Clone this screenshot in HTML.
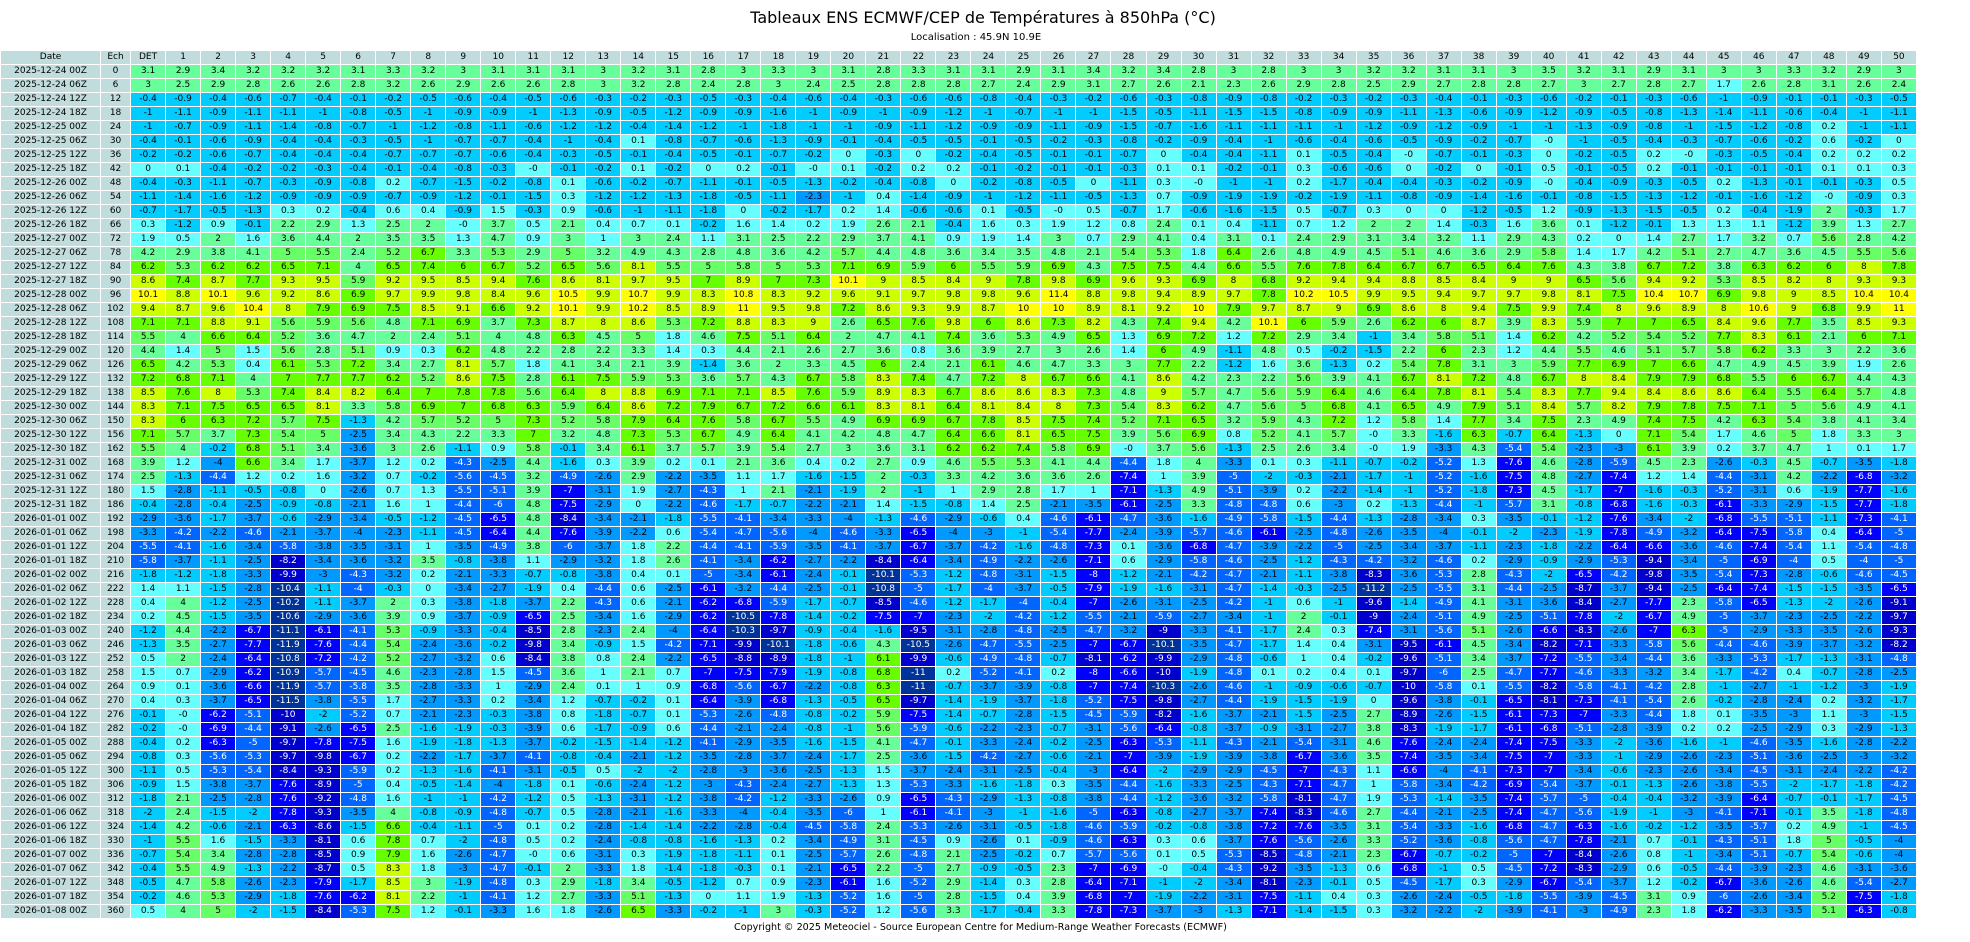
<!DOCTYPE html>
<html><head><meta charset="utf-8">
<style>
body{margin:0;background:#fff;width:1970px;height:942px;overflow:hidden;position:relative;font-family:"DejaVu Sans","Liberation Sans",sans-serif;color:#000}
.ti{position:absolute;left:0;top:8px;width:1966px;text-align:center;font-size:16px;line-height:20px}
.lo{position:absolute;left:0;top:32px;width:1952px;text-align:center;font-size:10px;line-height:12px}
.cp{position:absolute;left:734px;top:921px;font-size:9.6px;line-height:14px;white-space:nowrap}
table{position:absolute;left:0;top:50px;border-collapse:separate;border-spacing:1px;table-layout:fixed;width:1917px}
td,th{height:13px;padding:0;font-size:9px;line-height:13px;text-align:center;font-weight:normal;white-space:nowrap;overflow:hidden}
th{background:#c0dcdc}
.a{background:#ffff00}.b{background:#ccff00}.c{background:#66ff00}.d{background:#66ff66}.e{background:#66ff99}.f{background:#66ffff}.g{background:#00ccff}.h{background:#0099ff}
.i{background:#0066ff;color:#fff}.j{background:#0000ff;color:#fff}.k{background:#0000cc;color:#fff}.l{background:#003399;color:#fff}
</style></head><body>
<div class="ti">Tableaux ENS ECMWF/CEP de Températures à 850hPa (°C)</div>
<div class="lo">Localisation : 45.9N 10.9E</div>
<table>
<colgroup><col style="width:99px"><col style="width:29px"><col style="width:34px"><col span="50" style="width:34px"></colgroup>
<tr><th>Date<th>Ech<th>DET<th>1<th>2<th>3<th>4<th>5<th>6<th>7<th>8<th>9<th>10<th>11<th>12<th>13<th>14<th>15<th>16<th>17<th>18<th>19<th>20<th>21<th>22<th>23<th>24<th>25<th>26<th>27<th>28<th>29<th>30<th>31<th>32<th>33<th>34<th>35<th>36<th>37<th>38<th>39<th>40<th>41<th>42<th>43<th>44<th>45<th>46<th>47<th>48<th>49<th>50
<tr><th>2025-12-24 00Z<th>0<td class=e>3.1<td class=e>2.9<td class=e>3.4<td class=e>3.2<td class=e>3.2<td class=e>3.2<td class=e>3.1<td class=e>3.3<td class=e>3.2<td class=e>3<td class=e>3.1<td class=e>3.1<td class=e>3.1<td class=e>3<td class=e>3.2<td class=e>3.1<td class=e>2.8<td class=e>3<td class=e>3.3<td class=e>3<td class=e>3.1<td class=e>2.8<td class=e>3.3<td class=e>3.1<td class=e>3.1<td class=e>2.9<td class=e>3.1<td class=e>3.4<td class=e>3.2<td class=e>3.4<td class=e>2.8<td class=e>3<td class=e>2.8<td class=e>3<td class=e>3<td class=e>3.2<td class=e>3.2<td class=e>3.1<td class=e>3.1<td class=e>3<td class=e>3.5<td class=e>3.2<td class=e>3.1<td class=e>2.9<td class=e>3.1<td class=e>3<td class=e>3<td class=e>3.3<td class=e>3.2<td class=e>2.9<td class=e>3
<tr><th>2025-12-24 06Z<th>6<td class=e>3<td class=e>2.5<td class=e>2.9<td class=e>2.8<td class=e>2.6<td class=e>2.6<td class=e>2.8<td class=e>3.2<td class=e>2.6<td class=e>2.9<td class=e>2.6<td class=e>2.6<td class=e>2.8<td class=e>3<td class=e>3.2<td class=e>2.8<td class=e>2.4<td class=e>2.8<td class=e>3<td class=e>2.4<td class=e>2.5<td class=e>2.8<td class=e>2.8<td class=e>2.8<td class=e>2.7<td class=e>2.4<td class=e>2.9<td class=e>3.1<td class=e>2.7<td class=e>2.6<td class=e>2.1<td class=e>2.3<td class=e>2.6<td class=e>2.9<td class=e>2.8<td class=e>2.5<td class=e>2.9<td class=e>2.7<td class=e>2.8<td class=e>2.8<td class=e>2.7<td class=e>3<td class=e>2.7<td class=e>2.8<td class=e>2.7<td class=f>1.7<td class=e>2.6<td class=e>2.8<td class=e>3.1<td class=e>2.6<td class=e>2.4
<tr><th>2025-12-24 12Z<th>12<td class=g>-0.4<td class=g>-0.9<td class=g>-0.4<td class=g>-0.6<td class=g>-0.7<td class=g>-0.4<td class=g>-0.1<td class=g>-0.2<td class=g>-0.5<td class=g>-0.6<td class=g>-0.4<td class=g>-0.5<td class=g>-0.6<td class=g>-0.3<td class=g>-0.2<td class=g>-0.3<td class=g>-0.5<td class=g>-0.3<td class=g>-0.4<td class=g>-0.6<td class=g>-0.4<td class=g>-0.3<td class=g>-0.6<td class=g>-0.6<td class=g>-0.8<td class=g>-0.4<td class=g>-0.3<td class=g>-0.2<td class=g>-0.6<td class=g>-0.3<td class=g>-0.8<td class=g>-0.9<td class=g>-0.8<td class=g>-0.2<td class=g>-0.3<td class=g>-0.2<td class=g>-0.3<td class=g>-0.4<td class=g>-0.1<td class=g>-0.3<td class=g>-0.6<td class=g>-0.2<td class=g>-0.1<td class=g>-0.3<td class=g>-0.6<td class=g>-1<td class=g>-0.9<td class=g>-0.1<td class=g>-0.1<td class=g>-0.3<td class=g>-0.5
<tr><th>2025-12-24 18Z<th>18<td class=g>-1<td class=g>-1.1<td class=g>-0.9<td class=g>-1.1<td class=g>-1.1<td class=g>-1<td class=g>-0.8<td class=g>-0.5<td class=g>-1<td class=g>-0.9<td class=g>-0.9<td class=g>-1<td class=g>-1.3<td class=g>-0.9<td class=g>-0.5<td class=g>-1.2<td class=g>-0.9<td class=g>-0.9<td class=g>-1.6<td class=g>-1<td class=g>-0.9<td class=g>-1<td class=g>-0.9<td class=g>-1.2<td class=g>-1<td class=g>-0.7<td class=g>-1<td class=g>-1<td class=g>-1.5<td class=g>-0.5<td class=g>-1.1<td class=g>-1.5<td class=g>-1.5<td class=g>-0.8<td class=g>-0.9<td class=g>-0.9<td class=g>-1.1<td class=g>-1.3<td class=g>-0.6<td class=g>-0.9<td class=g>-1.2<td class=g>-0.9<td class=g>-0.5<td class=g>-0.8<td class=g>-1.3<td class=g>-1.4<td class=g>-1.1<td class=g>-0.6<td class=g>-0.4<td class=g>-1<td class=g>-1.1
<tr><th>2025-12-25 00Z<th>24<td class=g>-1<td class=g>-0.7<td class=g>-0.9<td class=g>-1.1<td class=g>-1.4<td class=g>-0.8<td class=g>-0.7<td class=g>-1<td class=g>-1.2<td class=g>-0.8<td class=g>-1.1<td class=g>-0.6<td class=g>-1.2<td class=g>-1.2<td class=g>-0.4<td class=g>-1.4<td class=g>-1.2<td class=g>-1<td class=g>-1.8<td class=g>-1<td class=g>-1<td class=g>-0.9<td class=g>-1.1<td class=g>-1.2<td class=g>-0.9<td class=g>-0.9<td class=g>-1.1<td class=g>-0.9<td class=g>-1.5<td class=g>-0.7<td class=g>-1.6<td class=g>-1.1<td class=g>-1.1<td class=g>-1.1<td class=g>-1<td class=g>-1.2<td class=g>-0.9<td class=g>-1.2<td class=g>-0.9<td class=g>-1<td class=g>-1<td class=g>-1.3<td class=g>-0.9<td class=g>-0.8<td class=g>-1<td class=g>-1.5<td class=g>-1.2<td class=g>-0.8<td class=f>0.2<td class=g>-1<td class=g>-1.1
<tr><th>2025-12-25 06Z<th>30<td class=g>-0.4<td class=g>-0.1<td class=g>-0.6<td class=g>-0.9<td class=g>-0.4<td class=g>-0.4<td class=g>-0.3<td class=g>-0.5<td class=g>-1<td class=g>-0.7<td class=g>-0.7<td class=g>-0.4<td class=g>-1<td class=g>-0.4<td class=f>0.1<td class=g>-0.8<td class=g>-0.7<td class=g>-0.6<td class=g>-1.3<td class=g>-0.9<td class=g>-0.1<td class=g>-0.4<td class=g>-0.5<td class=g>-0.5<td class=g>-0.1<td class=g>-0.5<td class=g>-0.2<td class=g>-0.3<td class=g>-0.8<td class=g>-0.2<td class=g>-0.9<td class=g>-0.4<td class=g>-1<td class=g>-0.6<td class=g>-0.4<td class=g>-0.6<td class=g>-0.5<td class=g>-0.9<td class=g>-0.2<td class=g>-0.7<td class=f>-0<td class=g>-1<td class=g>-0.5<td class=g>-0.4<td class=g>-0.3<td class=g>-0.7<td class=g>-0.6<td class=g>-0.2<td class=f>0.6<td class=g>-0.2<td class=f>0
<tr><th>2025-12-25 12Z<th>36<td class=g>-0.2<td class=g>-0.2<td class=g>-0.6<td class=g>-0.7<td class=g>-0.4<td class=g>-0.4<td class=g>-0.4<td class=g>-0.7<td class=g>-0.7<td class=g>-0.7<td class=g>-0.6<td class=g>-0.4<td class=g>-0.3<td class=g>-0.5<td class=g>-0.1<td class=g>-0.4<td class=g>-0.5<td class=g>-0.1<td class=g>-0.7<td class=g>-0.2<td class=f>0<td class=g>-0.3<td class=f>0<td class=g>-0.2<td class=g>-0.4<td class=g>-0.5<td class=g>-0.1<td class=g>-0.1<td class=g>-0.7<td class=f>0<td class=g>-0.4<td class=g>-0.4<td class=g>-1.1<td class=f>0.1<td class=g>-0.5<td class=g>-0.4<td class=f>-0<td class=g>-0.7<td class=g>-0.1<td class=g>-0.3<td class=f>0<td class=g>-0.2<td class=g>-0.5<td class=f>0.2<td class=f>-0<td class=g>-0.3<td class=g>-0.5<td class=g>-0.4<td class=f>0.2<td class=f>0.2<td class=f>0.2
<tr><th>2025-12-25 18Z<th>42<td class=f>0<td class=f>0.1<td class=g>-0.4<td class=g>-0.2<td class=g>-0.2<td class=g>-0.3<td class=g>-0.4<td class=g>-0.1<td class=g>-0.4<td class=g>-0.8<td class=g>-0.3<td class=f>-0<td class=g>-0.1<td class=g>-0.2<td class=f>0.1<td class=g>-0.2<td class=f>0<td class=f>0.2<td class=g>-0.1<td class=f>-0<td class=f>0.1<td class=g>-0.2<td class=f>0.2<td class=f>0.2<td class=g>-0.1<td class=g>-0.2<td class=g>-0.1<td class=g>-0.1<td class=g>-0.3<td class=f>0.1<td class=f>0.1<td class=g>-0.2<td class=g>-0.1<td class=f>0.3<td class=g>-0.6<td class=g>-0.6<td class=f>0<td class=g>-0.2<td class=f>0<td class=g>-0.1<td class=f>0.5<td class=g>-0.1<td class=g>-0.5<td class=f>0.2<td class=g>-0.1<td class=g>-0.1<td class=g>-0.1<td class=g>-0.1<td class=f>0.1<td class=f>0.1<td class=f>0.3
<tr><th>2025-12-26 00Z<th>48<td class=g>-0.4<td class=g>-0.3<td class=g>-1.1<td class=g>-0.7<td class=g>-0.3<td class=g>-0.9<td class=g>-0.8<td class=f>0.2<td class=g>-0.7<td class=g>-1.5<td class=g>-0.2<td class=g>-0.8<td class=f>0.1<td class=g>-0.6<td class=g>-0.2<td class=g>-0.7<td class=g>-1.1<td class=g>-0.1<td class=g>-0.5<td class=g>-1.3<td class=g>-0.2<td class=g>-0.4<td class=g>-0.8<td class=f>0<td class=g>-0.2<td class=g>-0.8<td class=g>-0.5<td class=f>0<td class=g>-1.1<td class=f>0.3<td class=f>-0<td class=g>-1<td class=g>-1<td class=f>0.2<td class=g>-1.7<td class=g>-0.4<td class=g>-0.4<td class=g>-0.3<td class=g>-0.2<td class=g>-0.9<td class=f>-0<td class=g>-0.4<td class=g>-0.9<td class=g>-0.3<td class=g>-0.5<td class=f>0.2<td class=g>-1.3<td class=g>-0.1<td class=g>-0.1<td class=g>-0.3<td class=f>0.5
<tr><th>2025-12-26 06Z<th>54<td class=g>-1.1<td class=g>-1.4<td class=g>-1.6<td class=g>-1.2<td class=g>-0.9<td class=g>-0.9<td class=g>-0.9<td class=g>-0.7<td class=g>-0.9<td class=g>-1.2<td class=g>-0.1<td class=g>-1.5<td class=f>0.3<td class=g>-1.2<td class=g>-1.2<td class=g>-1.3<td class=g>-1.8<td class=g>-0.5<td class=g>-1.1<td class=h>-2.3<td class=g>-1<td class=f>0.4<td class=g>-1.4<td class=g>-0.9<td class=g>-1<td class=g>-1.2<td class=g>-1.1<td class=g>-0.5<td class=g>-1.3<td class=f>0.7<td class=g>-0.9<td class=g>-1.9<td class=g>-1.9<td class=g>-0.2<td class=g>-1.9<td class=g>-1.1<td class=g>-0.8<td class=g>-0.9<td class=g>-1.4<td class=g>-1.6<td class=g>-0.1<td class=g>-0.8<td class=g>-1.5<td class=g>-1.3<td class=g>-1.2<td class=g>-0.1<td class=g>-1.6<td class=g>-1.2<td class=f>-0<td class=g>-0.9<td class=f>0.3
<tr><th>2025-12-26 12Z<th>60<td class=g>-0.7<td class=g>-1.7<td class=g>-0.5<td class=g>-1.3<td class=f>0.3<td class=f>0.2<td class=g>-0.4<td class=f>0.6<td class=f>0.4<td class=g>-0.9<td class=f>1.5<td class=g>-0.3<td class=f>0.9<td class=g>-0.6<td class=g>-1<td class=g>-1.1<td class=g>-1.8<td class=f>0<td class=g>-0.2<td class=g>-1.7<td class=f>0.2<td class=f>1.4<td class=g>-0.6<td class=g>-0.6<td class=f>0.1<td class=g>-0.5<td class=f>-0<td class=f>0.5<td class=g>-0.7<td class=f>1.7<td class=g>-0.6<td class=g>-1.6<td class=g>-1.5<td class=f>0.5<td class=g>-0.7<td class=f>0.3<td class=f>0<td class=f>0<td class=g>-1.2<td class=g>-0.5<td class=f>1.2<td class=g>-0.9<td class=g>-1.3<td class=g>-1.5<td class=g>-0.5<td class=f>0.2<td class=g>-0.4<td class=g>-1.9<td class=e>2<td class=g>-0.3<td class=f>1.7
<tr><th>2025-12-26 18Z<th>66<td class=f>0.3<td class=g>-1.2<td class=f>0.9<td class=g>-0.1<td class=e>2.2<td class=e>2.9<td class=f>1.3<td class=e>2.5<td class=e>2<td class=f>-0<td class=e>3.7<td class=f>0.5<td class=e>2.1<td class=f>0.4<td class=f>0.7<td class=f>0.1<td class=g>-0.2<td class=f>1.6<td class=f>1.4<td class=f>0.2<td class=f>1.9<td class=e>2.6<td class=e>2.1<td class=g>-0.4<td class=f>1.6<td class=f>0.3<td class=f>1.9<td class=f>1.2<td class=f>0.8<td class=e>2.4<td class=f>0.1<td class=f>0.4<td class=g>-1.1<td class=f>0.7<td class=f>1.2<td class=e>2<td class=e>2<td class=f>1.4<td class=g>-0.3<td class=f>1.6<td class=e>3.6<td class=f>0.1<td class=g>-1.2<td class=g>-0.1<td class=f>1.3<td class=f>1.3<td class=f>1.1<td class=g>-1.2<td class=e>3.9<td class=f>1.3<td class=e>2.7
<tr><th>2025-12-27 00Z<th>72<td class=f>1.9<td class=f>0.5<td class=e>2<td class=f>1.6<td class=e>3.6<td class=e>4.4<td class=e>2<td class=e>3.5<td class=e>3.5<td class=f>1.3<td class=e>4.7<td class=f>0.9<td class=e>3<td class=f>1<td class=e>3<td class=e>2.4<td class=f>1.1<td class=e>3.1<td class=e>2.5<td class=e>2.2<td class=e>2.9<td class=e>3.7<td class=e>4.1<td class=f>0.9<td class=f>1.9<td class=f>1.4<td class=e>3<td class=f>0.7<td class=e>2.9<td class=e>4.1<td class=f>0.4<td class=e>3.1<td class=f>0.1<td class=e>2.4<td class=e>2.9<td class=e>3.1<td class=e>3.4<td class=e>3.2<td class=f>1.1<td class=e>2.9<td class=e>4.3<td class=f>0.2<td class=f>0<td class=f>1.4<td class=e>2.7<td class=f>1.7<td class=e>3.2<td class=f>0.7<td class=d>5.6<td class=e>2.8<td class=e>4.2
<tr><th>2025-12-27 06Z<th>78<td class=e>4.2<td class=e>2.9<td class=e>3.8<td class=e>4.1<td class=d>5<td class=d>5.5<td class=e>2.4<td class=d>5.2<td class=c>6.7<td class=e>3.3<td class=d>5.3<td class=e>2.9<td class=d>5<td class=e>3.2<td class=e>4.9<td class=e>4.3<td class=e>2.8<td class=e>4.8<td class=e>3.6<td class=e>4.2<td class=d>5.7<td class=e>4.4<td class=e>4.8<td class=e>3.6<td class=e>3.4<td class=e>3.5<td class=e>4.8<td class=e>2.1<td class=d>5.4<td class=d>5.3<td class=f>1.8<td class=c>6.4<td class=e>2.6<td class=e>4.8<td class=e>4.9<td class=e>4.5<td class=d>5.1<td class=e>4.6<td class=e>3.6<td class=e>2.9<td class=d>5.8<td class=f>1.4<td class=f>1.7<td class=e>4.2<td class=d>5.1<td class=e>2.7<td class=e>4.7<td class=e>3.6<td class=e>4.5<td class=d>5.5<td class=d>5.6
<tr><th>2025-12-27 12Z<th>84<td class=c>6.2<td class=d>5.3<td class=c>6.2<td class=c>6.2<td class=c>6.5<td class=c>7.1<td class=e>4<td class=c>6.5<td class=c>7.4<td class=c>6<td class=c>6.7<td class=d>5.2<td class=c>6.5<td class=d>5.6<td class=b>8.1<td class=d>5.5<td class=d>5<td class=d>5.8<td class=d>5<td class=d>5.3<td class=c>7.1<td class=c>6.9<td class=d>5.9<td class=c>6<td class=d>5.5<td class=d>5.9<td class=c>6.9<td class=e>4.3<td class=c>7.5<td class=c>7.5<td class=e>4.4<td class=c>6.6<td class=d>5.5<td class=c>7.6<td class=c>7.8<td class=c>6.4<td class=c>6.7<td class=c>6.7<td class=c>6.5<td class=c>6.4<td class=c>7.6<td class=e>4.3<td class=e>3.8<td class=c>6.7<td class=c>7.2<td class=e>3.8<td class=c>6.3<td class=c>6.2<td class=c>6<td class=b>8<td class=c>7.8
<tr><th>2025-12-27 18Z<th>90<td class=b>8.6<td class=c>7.4<td class=b>8.7<td class=c>7.7<td class=b>9.3<td class=b>9.5<td class=d>5.9<td class=b>9.2<td class=b>9.5<td class=b>8.5<td class=b>9.4<td class=c>7.6<td class=b>8.6<td class=b>8.1<td class=b>9.7<td class=b>9.5<td class=c>7<td class=b>8.9<td class=c>7<td class=c>7.3<td class=a>10.1<td class=b>9<td class=b>8.5<td class=b>8.4<td class=b>9<td class=c>7.8<td class=b>9.8<td class=c>6.9<td class=b>9.6<td class=b>9.3<td class=c>6.9<td class=b>8<td class=c>6.8<td class=b>9.2<td class=b>9.4<td class=b>9.4<td class=b>8.8<td class=b>8.5<td class=b>8.4<td class=b>9<td class=b>9<td class=c>6.5<td class=d>5.6<td class=b>9.4<td class=b>9.2<td class=d>5.3<td class=b>8.5<td class=b>8.2<td class=b>8<td class=b>9.3<td class=b>9.3
<tr><th>2025-12-28 00Z<th>96<td class=a>10.1<td class=b>8.8<td class=a>10.1<td class=b>9.6<td class=b>9.2<td class=b>8.6<td class=c>6.9<td class=b>9.7<td class=b>9.9<td class=b>9.8<td class=b>8.4<td class=b>9.6<td class=a>10.5<td class=b>9.9<td class=a>10.7<td class=b>9.9<td class=b>8.3<td class=a>10.8<td class=b>8.3<td class=b>9.2<td class=b>9.6<td class=b>9.1<td class=b>9.7<td class=b>9.8<td class=b>9.8<td class=b>9.6<td class=a>11.4<td class=b>8.8<td class=b>9.8<td class=b>9.4<td class=b>8.9<td class=b>9.7<td class=c>7.8<td class=a>10.2<td class=a>10.5<td class=b>9.9<td class=b>9.5<td class=b>9.4<td class=b>9.7<td class=b>9.7<td class=b>9.8<td class=b>8.1<td class=c>7.5<td class=a>10.4<td class=a>10.7<td class=c>6.9<td class=b>9.8<td class=b>9<td class=b>8.5<td class=a>10.4<td class=a>10.4
<tr><th>2025-12-28 06Z<th>102<td class=b>9.4<td class=b>8.7<td class=b>9.6<td class=a>10.4<td class=b>8<td class=c>7.9<td class=c>6.9<td class=c>7.5<td class=b>8.5<td class=b>9.1<td class=c>6.6<td class=b>9.2<td class=a>10.1<td class=b>9.9<td class=a>10.2<td class=b>8.5<td class=b>8.9<td class=a>11<td class=b>9.5<td class=b>9.8<td class=c>7.2<td class=b>8.6<td class=b>9.3<td class=b>9.9<td class=b>8.7<td class=a>10<td class=a>10<td class=b>8.9<td class=b>8.1<td class=b>9.2<td class=a>10<td class=c>7.9<td class=b>9.7<td class=b>8.7<td class=b>9<td class=c>6.9<td class=b>8.6<td class=b>8<td class=b>9.4<td class=c>7.5<td class=b>9.9<td class=c>7.4<td class=b>8<td class=b>9.6<td class=b>8.9<td class=b>8<td class=a>10.6<td class=b>9<td class=c>6.8<td class=b>9.9<td class=a>11
<tr><th>2025-12-28 12Z<th>108<td class=c>7.1<td class=c>7.1<td class=b>8.8<td class=b>9.1<td class=d>5.6<td class=d>5.9<td class=d>5.6<td class=e>4.8<td class=c>7.1<td class=c>6.9<td class=e>3.7<td class=c>7.3<td class=b>8.7<td class=b>8<td class=b>8.6<td class=d>5.3<td class=c>7.2<td class=b>8.8<td class=b>8.3<td class=b>9<td class=e>2.6<td class=c>6.5<td class=c>7.6<td class=b>9.8<td class=c>6<td class=b>8.6<td class=c>7.3<td class=b>8.2<td class=e>4.3<td class=c>7.4<td class=b>9.4<td class=e>4.2<td class=a>10.1<td class=c>6<td class=d>5.9<td class=e>2.6<td class=c>6.2<td class=c>6<td class=b>8.7<td class=e>3.9<td class=b>8.3<td class=d>5.9<td class=c>7<td class=c>7<td class=c>6.5<td class=b>8.4<td class=b>9.6<td class=c>7.7<td class=e>3.5<td class=b>8.5<td class=b>9.3
<tr><th>2025-12-28 18Z<th>114<td class=d>5.5<td class=e>4<td class=c>6.6<td class=c>6.4<td class=d>5.2<td class=e>3.6<td class=e>4.7<td class=e>2<td class=e>2.4<td class=d>5.1<td class=e>4<td class=e>4.8<td class=c>6.3<td class=e>4.5<td class=d>5<td class=f>1.8<td class=e>4.6<td class=c>7.5<td class=d>5.1<td class=c>6.4<td class=e>2<td class=e>4.7<td class=e>4.1<td class=c>7.4<td class=e>3.6<td class=d>5.3<td class=e>4.9<td class=c>6.5<td class=f>1.3<td class=c>6.9<td class=c>7.2<td class=f>1.2<td class=c>7.2<td class=e>2.9<td class=e>3.4<td class=g>-1<td class=e>3.4<td class=d>5.8<td class=d>5.1<td class=f>1.4<td class=c>6.2<td class=e>4.2<td class=d>5.2<td class=d>5.4<td class=d>5.2<td class=c>7.7<td class=b>8.3<td class=c>6.1<td class=e>2.1<td class=c>6<td class=c>7.1
<tr><th>2025-12-29 00Z<th>120<td class=e>4.4<td class=f>1.4<td class=d>5<td class=f>1.5<td class=d>5.6<td class=e>2.8<td class=d>5.1<td class=f>0.9<td class=f>0.3<td class=c>6.2<td class=e>4.8<td class=e>2.2<td class=e>2.8<td class=e>2.2<td class=e>3.3<td class=f>1.4<td class=f>0.3<td class=e>4.4<td class=e>2.1<td class=e>2.6<td class=e>2.7<td class=e>3.6<td class=f>0.8<td class=e>3.6<td class=e>3.9<td class=e>2.7<td class=e>3<td class=e>2.6<td class=f>1.4<td class=c>6<td class=e>4.9<td class=g>-1.1<td class=e>4.8<td class=f>0.5<td class=g>-0.2<td class=g>-1.5<td class=e>2.2<td class=c>6<td class=e>2.3<td class=f>1.2<td class=e>4.4<td class=d>5.5<td class=e>4.6<td class=d>5.1<td class=d>5.7<td class=d>5.8<td class=c>6.2<td class=e>3.3<td class=e>3<td class=e>2.2<td class=e>3.6
<tr><th>2025-12-29 06Z<th>126<td class=c>6.5<td class=e>4.2<td class=d>5.3<td class=f>0.4<td class=c>6.1<td class=d>5.3<td class=c>7.2<td class=e>3.4<td class=e>2.7<td class=b>8.1<td class=d>5.7<td class=f>1.8<td class=e>4.1<td class=e>3.4<td class=e>2.1<td class=e>3.9<td class=g>-1.4<td class=e>3.6<td class=e>2<td class=e>3.3<td class=e>4.5<td class=c>6<td class=e>2.4<td class=e>2.1<td class=c>6.1<td class=e>4.6<td class=e>4.7<td class=e>3.3<td class=e>3<td class=c>7.7<td class=e>2.2<td class=g>-1.2<td class=f>1.6<td class=e>3.6<td class=g>-1.3<td class=f>0.2<td class=d>5.4<td class=c>7.8<td class=e>3.1<td class=e>3<td class=d>5.9<td class=c>7.7<td class=c>6.9<td class=c>7<td class=c>6.6<td class=e>4.7<td class=e>4.9<td class=e>4.5<td class=e>3.9<td class=f>1.9<td class=e>2.6
<tr><th>2025-12-29 12Z<th>132<td class=c>7.2<td class=c>6.8<td class=c>7.1<td class=e>4<td class=c>7<td class=c>7.7<td class=c>7.7<td class=c>6.2<td class=d>5.2<td class=b>8.6<td class=c>7.5<td class=e>2.8<td class=c>6.1<td class=c>7.5<td class=d>5.9<td class=d>5.3<td class=e>3.6<td class=d>5.7<td class=e>4.3<td class=c>6.7<td class=d>5.8<td class=b>8.3<td class=c>7.4<td class=e>4.7<td class=c>7.2<td class=b>8<td class=c>6.7<td class=c>6.6<td class=e>4.1<td class=b>8.6<td class=e>4.2<td class=e>2.3<td class=e>2.2<td class=d>5.6<td class=e>3.9<td class=e>4.1<td class=c>6.7<td class=b>8.1<td class=c>7.2<td class=e>4.8<td class=c>6.7<td class=b>8<td class=b>8.4<td class=c>7.9<td class=c>7.9<td class=c>6.8<td class=d>5.5<td class=c>6<td class=c>6.7<td class=e>4.4<td class=e>4.3
<tr><th>2025-12-29 18Z<th>138<td class=b>8.5<td class=c>7.6<td class=b>8<td class=d>5.3<td class=c>7.4<td class=b>8.4<td class=b>8.2<td class=c>6.4<td class=c>7<td class=c>7.8<td class=c>7.8<td class=d>5.6<td class=c>6.4<td class=b>8<td class=b>8.8<td class=c>6.9<td class=c>7.1<td class=c>7.1<td class=b>8.5<td class=c>7.6<td class=d>5.9<td class=b>8.9<td class=b>8.3<td class=c>6.7<td class=b>8.6<td class=b>8.6<td class=b>8.3<td class=c>7.3<td class=e>4.8<td class=b>9<td class=d>5.7<td class=e>4.7<td class=d>5.6<td class=d>5.9<td class=c>6.4<td class=e>4.6<td class=c>6.4<td class=c>7.8<td class=b>8.1<td class=d>5.4<td class=b>8.3<td class=c>7.7<td class=b>9.4<td class=b>8.4<td class=b>8.6<td class=b>8.6<td class=c>6.4<td class=d>5.5<td class=c>6.4<td class=d>5.7<td class=e>4.8
<tr><th>2025-12-30 00Z<th>144<td class=b>8.3<td class=c>7.1<td class=c>7.5<td class=c>6.5<td class=c>6.5<td class=b>8.1<td class=e>3.3<td class=d>5.8<td class=c>6.9<td class=c>7<td class=c>6.8<td class=c>6.3<td class=d>5.9<td class=c>6.4<td class=b>8.6<td class=c>7.2<td class=c>7.9<td class=c>6.7<td class=c>7.2<td class=c>6.6<td class=c>6.1<td class=b>8.3<td class=b>8.1<td class=c>6.4<td class=b>8.1<td class=b>8.4<td class=b>8<td class=c>7.3<td class=d>5.4<td class=b>8.3<td class=c>6.2<td class=e>4.7<td class=d>5.6<td class=d>5<td class=c>6.8<td class=e>4.1<td class=c>6.5<td class=e>4.9<td class=c>7.9<td class=d>5.1<td class=b>8.4<td class=d>5.7<td class=b>8.2<td class=c>7.9<td class=c>7.8<td class=c>7.5<td class=c>7.1<td class=d>5<td class=d>5.6<td class=e>4.9<td class=e>4.1
<tr><th>2025-12-30 06Z<th>150<td class=b>8.3<td class=c>6<td class=c>6.3<td class=c>7.2<td class=d>5.7<td class=c>7.5<td class=g>-1.3<td class=e>4.2<td class=d>5.7<td class=d>5.2<td class=d>5<td class=c>7.3<td class=d>5.2<td class=d>5.8<td class=c>7.9<td class=c>6.4<td class=c>7.6<td class=d>5.8<td class=c>6.7<td class=d>5.5<td class=e>4.9<td class=c>6.9<td class=c>6.9<td class=c>6.7<td class=c>7.8<td class=b>8.5<td class=c>7.5<td class=c>7.4<td class=d>5.2<td class=c>7.1<td class=c>6.5<td class=e>3.2<td class=d>5.9<td class=e>4.3<td class=c>7.2<td class=f>1.2<td class=d>5.8<td class=f>1.4<td class=c>7.7<td class=e>3.4<td class=c>7.5<td class=e>2.3<td class=e>4.9<td class=c>7.4<td class=c>7.5<td class=e>4.2<td class=c>6.3<td class=d>5.4<td class=e>3.8<td class=e>4.1<td class=e>3.4
<tr><th>2025-12-30 12Z<th>156<td class=c>7.1<td class=d>5.7<td class=e>3.7<td class=c>7.3<td class=d>5.4<td class=d>5<td class=h>-2.5<td class=e>3.4<td class=e>4.3<td class=e>2.2<td class=e>3.3<td class=c>7<td class=e>3.2<td class=e>4.8<td class=c>7.3<td class=d>5.3<td class=c>6.7<td class=e>4.9<td class=c>6.4<td class=e>4.1<td class=e>4.2<td class=e>4.8<td class=e>4.7<td class=c>6.4<td class=c>6.6<td class=b>8.1<td class=c>6.5<td class=c>7.5<td class=e>3.9<td class=d>5.6<td class=c>6.9<td class=f>0.8<td class=d>5.2<td class=e>4.1<td class=d>5.7<td class=f>-0<td class=e>3.3<td class=g>-1.6<td class=c>6.3<td class=g>-0.7<td class=c>6.4<td class=g>-1.3<td class=f>0<td class=c>7.1<td class=d>5.4<td class=f>1.7<td class=e>4.6<td class=d>5<td class=f>1.8<td class=e>3.3<td class=e>3
<tr><th>2025-12-30 18Z<th>162<td class=d>5.5<td class=e>4<td class=g>-0.2<td class=c>6.8<td class=d>5.1<td class=e>3.4<td class=h>-3.6<td class=e>3<td class=e>2.6<td class=g>-1.1<td class=f>0.9<td class=d>5.8<td class=g>-0.1<td class=e>3.4<td class=c>6.1<td class=e>3.7<td class=d>5.7<td class=e>3.9<td class=d>5.4<td class=e>2.7<td class=e>3<td class=e>3.6<td class=e>3.1<td class=c>6.2<td class=c>6.2<td class=c>7.4<td class=d>5.8<td class=c>6.9<td class=f>-0<td class=e>3.7<td class=d>5.6<td class=g>-1.3<td class=e>2.5<td class=e>2.6<td class=e>3.4<td class=f>-0<td class=f>1.9<td class=h>-3.3<td class=e>4.3<td class=i>-5.4<td class=d>5.4<td class=h>-2.3<td class=h>-3<td class=c>6.1<td class=e>3.9<td class=f>0.2<td class=e>3.7<td class=e>4.7<td class=f>1<td class=f>0.1<td class=f>1.7
<tr><th>2025-12-31 00Z<th>168<td class=e>3.9<td class=f>1.2<td class=h>-4<td class=c>6.6<td class=e>3.4<td class=f>1.7<td class=h>-3.7<td class=f>1.2<td class=f>0.2<td class=i>-4.3<td class=h>-2.5<td class=e>4.4<td class=g>-1.6<td class=f>0.3<td class=e>3.9<td class=f>0.2<td class=f>0.1<td class=e>2.1<td class=e>3.6<td class=f>0.4<td class=f>0.2<td class=e>2.7<td class=f>0.9<td class=e>4.6<td class=d>5.5<td class=d>5.3<td class=e>4.1<td class=e>4.4<td class=i>-4.4<td class=f>1.8<td class=e>4<td class=h>-3.3<td class=f>0.1<td class=f>0.3<td class=g>-1.1<td class=g>-0.7<td class=g>-0.2<td class=i>-5.2<td class=f>1.3<td class=j>-7.6<td class=e>4.6<td class=h>-2.8<td class=i>-5.9<td class=e>4.5<td class=e>2.3<td class=h>-2.6<td class=g>-0.3<td class=e>4.5<td class=g>-0.7<td class=h>-3.5<td class=g>-1.8
<tr><th>2025-12-31 06Z<th>174<td class=e>2.5<td class=g>-1.3<td class=i>-4.4<td class=f>1.2<td class=f>0.2<td class=f>1.6<td class=h>-3.2<td class=f>0.7<td class=g>-0.2<td class=i>-5.6<td class=i>-4.5<td class=e>3.2<td class=i>-4.9<td class=h>-2.6<td class=e>2.9<td class=h>-2.2<td class=h>-3.5<td class=f>1.1<td class=f>1.7<td class=g>-1.6<td class=g>-1.5<td class=e>2<td class=g>-0.3<td class=e>3.3<td class=e>4.2<td class=e>3.6<td class=e>3.6<td class=e>2.6<td class=j>-7.4<td class=f>1<td class=e>3.9<td class=i>-5<td class=g>-2<td class=g>-0.3<td class=h>-2.1<td class=g>-1.7<td class=g>-1<td class=i>-5.2<td class=g>-1.6<td class=j>-7.5<td class=e>4.8<td class=h>-2.7<td class=j>-7.4<td class=f>1.2<td class=f>1.4<td class=i>-4.4<td class=h>-3.1<td class=e>4.2<td class=h>-2.2<td class=j>-6.8<td class=h>-3.2
<tr><th>2025-12-31 12Z<th>180<td class=f>1.5<td class=h>-2.8<td class=g>-1.1<td class=g>-0.5<td class=g>-0.8<td class=f>0<td class=h>-2.6<td class=f>0.7<td class=f>1.3<td class=i>-5.5<td class=i>-5.1<td class=e>3.9<td class=j>-7<td class=h>-3.1<td class=f>1.9<td class=h>-2.7<td class=i>-4.3<td class=f>1<td class=e>2.1<td class=h>-2.1<td class=g>-1.9<td class=e>2<td class=g>-1<td class=f>1<td class=e>2.9<td class=e>2.8<td class=f>1.7<td class=f>1<td class=j>-7.1<td class=g>-1.3<td class=e>4.9<td class=i>-5.1<td class=h>-3.9<td class=f>0.2<td class=h>-2.2<td class=g>-1.4<td class=g>-1<td class=i>-5.2<td class=g>-1.8<td class=j>-7.3<td class=e>4.5<td class=g>-1.7<td class=j>-7<td class=g>-1.6<td class=g>-0.3<td class=i>-5.2<td class=h>-3.1<td class=f>0.6<td class=g>-1.9<td class=j>-7.7<td class=g>-1.6
<tr><th>2025-12-31 18Z<th>186<td class=g>-0.4<td class=h>-2.8<td class=g>-0.4<td class=h>-2.5<td class=g>-0.9<td class=g>-0.8<td class=h>-2.1<td class=f>1.6<td class=f>1<td class=i>-4.4<td class=i>-6<td class=e>4.8<td class=j>-7.5<td class=h>-2.9<td class=f>0<td class=h>-2.2<td class=i>-4.6<td class=g>-1.7<td class=g>-0.7<td class=h>-2.2<td class=h>-2.1<td class=f>1.4<td class=g>-1.5<td class=g>-0.8<td class=f>1.4<td class=e>2.5<td class=h>-2.1<td class=h>-3.5<td class=j>-6.1<td class=h>-2.5<td class=e>3.3<td class=i>-4.8<td class=i>-4.8<td class=f>0.6<td class=h>-3<td class=f>0.2<td class=g>-1.3<td class=i>-4.4<td class=g>-1<td class=i>-5.7<td class=e>3.1<td class=g>-0.8<td class=j>-6.8<td class=g>-1.6<td class=g>-0.3<td class=j>-6.1<td class=h>-3.3<td class=h>-2.9<td class=g>-1.5<td class=j>-7.7<td class=g>-1.8
<tr><th>2026-01-01 00Z<th>192<td class=h>-2.9<td class=h>-3.6<td class=g>-1.7<td class=h>-3.7<td class=g>-0.6<td class=h>-2.9<td class=h>-3.4<td class=g>-0.5<td class=g>-1.2<td class=i>-4.5<td class=j>-6.5<td class=e>4.8<td class=k>-8.4<td class=h>-3.4<td class=h>-2.1<td class=g>-1.8<td class=i>-5.5<td class=i>-4.1<td class=h>-3.4<td class=h>-3.3<td class=h>-4<td class=g>-1.3<td class=i>-4.6<td class=h>-2.9<td class=g>-0.6<td class=f>0.4<td class=i>-4.6<td class=j>-6.1<td class=i>-4.7<td class=h>-3.6<td class=g>-1.6<td class=i>-4.9<td class=i>-5.8<td class=g>-1.5<td class=i>-4.4<td class=g>-1.3<td class=h>-2.8<td class=h>-3.4<td class=f>0.3<td class=h>-3.5<td class=g>-0.1<td class=g>-1.2<td class=j>-7.6<td class=h>-3.4<td class=g>-2<td class=j>-6.8<td class=i>-5.5<td class=i>-5.1<td class=g>-1.1<td class=j>-7.3<td class=i>-4.1
<tr><th>2026-01-01 06Z<th>198<td class=h>-3.3<td class=i>-4.2<td class=h>-2.2<td class=i>-4.6<td class=h>-2.1<td class=h>-3.7<td class=h>-4<td class=h>-2.3<td class=g>-1.1<td class=i>-4.5<td class=j>-6.4<td class=e>4.4<td class=j>-7.6<td class=h>-3.9<td class=h>-2.2<td class=f>0.6<td class=i>-5.4<td class=i>-4.7<td class=i>-5.6<td class=h>-4<td class=i>-4.6<td class=h>-3.3<td class=j>-6.5<td class=h>-4<td class=h>-3<td class=g>-1<td class=i>-5.4<td class=j>-7.7<td class=h>-2.4<td class=h>-3.9<td class=i>-5.7<td class=i>-4.6<td class=j>-6.1<td class=h>-2.5<td class=i>-4.8<td class=h>-2.6<td class=h>-3.5<td class=h>-4<td class=g>-0.1<td class=g>-2<td class=h>-2.3<td class=g>-1.9<td class=j>-7.8<td class=i>-4.9<td class=h>-3.2<td class=j>-6.4<td class=j>-7.5<td class=i>-5.8<td class=f>0.4<td class=j>-6.4<td class=i>-5
<tr><th>2026-01-01 12Z<th>204<td class=i>-5.5<td class=i>-4.1<td class=g>-1.6<td class=h>-3.4<td class=i>-5.8<td class=h>-3.8<td class=h>-3.5<td class=h>-3.1<td class=f>1<td class=h>-3.5<td class=i>-4.9<td class=e>3.8<td class=i>-6<td class=h>-3.7<td class=f>1.8<td class=e>2.2<td class=i>-4.4<td class=i>-4.1<td class=i>-5.9<td class=h>-3.5<td class=i>-4.1<td class=h>-3.7<td class=j>-6.7<td class=h>-3.7<td class=i>-4.2<td class=g>-1.6<td class=i>-4.8<td class=j>-7.3<td class=f>0.1<td class=h>-3.6<td class=j>-6.8<td class=i>-4.7<td class=h>-3.9<td class=h>-2.2<td class=i>-5<td class=h>-2.5<td class=h>-3.4<td class=h>-3.7<td class=g>-1.1<td class=h>-2.3<td class=g>-1.8<td class=h>-2.2<td class=j>-6.4<td class=j>-6.6<td class=h>-3.6<td class=i>-4.6<td class=j>-7.4<td class=i>-5.4<td class=f>1.1<td class=i>-5.4<td class=i>-4.8
<tr><th>2026-01-01 18Z<th>210<td class=i>-5.8<td class=h>-3.7<td class=g>-1.1<td class=h>-2.5<td class=k>-8.2<td class=h>-3.4<td class=h>-3.6<td class=h>-3.2<td class=e>3.5<td class=g>-0.8<td class=h>-3.8<td class=f>1.1<td class=h>-2.9<td class=h>-3.2<td class=f>1.8<td class=e>2.6<td class=i>-4.1<td class=h>-3.4<td class=j>-6.2<td class=h>-2.7<td class=h>-2.2<td class=k>-8.4<td class=j>-6.4<td class=h>-3.4<td class=i>-4.9<td class=h>-2.2<td class=h>-2.6<td class=j>-7.1<td class=f>0.6<td class=h>-2.9<td class=i>-5.8<td class=i>-4.6<td class=h>-2.5<td class=g>-1.2<td class=i>-4.3<td class=i>-4.2<td class=h>-3.2<td class=i>-4.6<td class=f>0.2<td class=h>-2.9<td class=g>-0.9<td class=h>-2.9<td class=i>-5.3<td class=k>-9.4<td class=h>-3.4<td class=i>-5<td class=j>-6.9<td class=i>-4<td class=f>0.5<td class=i>-4<td class=i>-5
<tr><th>2026-01-02 00Z<th>216<td class=g>-1.8<td class=g>-1.2<td class=g>-1.8<td class=h>-3.3<td class=k>-9.9<td class=h>-3<td class=i>-4.3<td class=h>-3.2<td class=f>0.2<td class=h>-2.1<td class=h>-3.3<td class=g>-0.7<td class=g>-0.8<td class=h>-3.8<td class=f>0.4<td class=f>0.1<td class=i>-5<td class=h>-3.4<td class=j>-6.1<td class=h>-2.4<td class=g>-0.1<td class=l>-10.1<td class=i>-5.3<td class=g>-1.2<td class=i>-4.8<td class=h>-3.1<td class=g>-1.5<td class=j>-8<td class=g>-1.2<td class=h>-2.1<td class=i>-4.2<td class=i>-4.7<td class=h>-2.1<td class=g>-1.1<td class=h>-3.8<td class=k>-8.3<td class=h>-3.6<td class=i>-5.3<td class=e>2.8<td class=i>-4.3<td class=g>-2<td class=j>-6.5<td class=i>-4.2<td class=k>-9.8<td class=h>-3.5<td class=i>-5.4<td class=j>-7.3<td class=h>-2.8<td class=g>-0.6<td class=i>-4.6<td class=i>-4.5
<tr><th>2026-01-02 06Z<th>222<td class=f>1.4<td class=f>1.1<td class=g>-1.5<td class=h>-2.8<td class=l>-10.4<td class=g>-1.1<td class=i>-4<td class=g>-0.3<td class=f>0<td class=h>-3.4<td class=h>-2.7<td class=g>-1.9<td class=f>0.4<td class=i>-4.4<td class=f>0.6<td class=h>-2.5<td class=j>-6.1<td class=h>-3.2<td class=i>-4.4<td class=h>-2.5<td class=g>-0.1<td class=l>-10.8<td class=i>-5<td class=g>-1.7<td class=i>-4<td class=h>-3.7<td class=g>-0.5<td class=j>-7.9<td class=g>-1.9<td class=g>-1.6<td class=h>-3.1<td class=i>-4.7<td class=g>-1.4<td class=g>-0.3<td class=h>-2.5<td class=l>-11.2<td class=h>-2.5<td class=i>-5.5<td class=e>3.1<td class=i>-4.4<td class=h>-2.5<td class=k>-8.7<td class=h>-3.7<td class=k>-9.4<td class=h>-2.5<td class=j>-6.4<td class=j>-7.4<td class=g>-1.5<td class=g>-1.5<td class=h>-3.5<td class=j>-6.5
<tr><th>2026-01-02 12Z<th>228<td class=f>0.4<td class=e>4<td class=g>-1.2<td class=h>-2.5<td class=l>-10.2<td class=g>-1.1<td class=h>-3.7<td class=e>2<td class=f>0.3<td class=h>-3.8<td class=g>-1.8<td class=h>-3.7<td class=e>2.2<td class=i>-4.3<td class=f>0.6<td class=h>-2.1<td class=j>-6.2<td class=j>-6.8<td class=i>-5.9<td class=g>-1.7<td class=g>-0.7<td class=k>-8.5<td class=i>-4.6<td class=g>-1.2<td class=g>-1.7<td class=i>-4<td class=g>-0.4<td class=j>-7<td class=h>-2.6<td class=h>-3.1<td class=h>-2.5<td class=i>-4.2<td class=g>-1<td class=f>0.6<td class=g>-1<td class=k>-9.6<td class=g>-1.4<td class=i>-4.9<td class=e>4.1<td class=h>-3.1<td class=h>-3.6<td class=k>-8.4<td class=h>-2.7<td class=j>-7.7<td class=e>2.3<td class=i>-5.8<td class=j>-6.5<td class=g>-1.3<td class=g>-2<td class=h>-2.6<td class=k>-9.1
<tr><th>2026-01-02 18Z<th>234<td class=f>0.2<td class=e>4.5<td class=g>-1.5<td class=h>-3.5<td class=l>-10.6<td class=h>-2.9<td class=h>-3.6<td class=e>3.9<td class=f>0.9<td class=h>-3.7<td class=g>-0.9<td class=j>-6.5<td class=e>2.5<td class=h>-3.4<td class=f>1.6<td class=h>-2.9<td class=j>-6.2<td class=l>-10.5<td class=j>-7.8<td class=g>-1.4<td class=g>-0.2<td class=j>-7.5<td class=j>-7<td class=h>-2.3<td class=g>-2<td class=i>-4.2<td class=g>-1.2<td class=i>-5.5<td class=h>-2.1<td class=i>-5.9<td class=h>-2.7<td class=h>-3.4<td class=g>-1<td class=e>2<td class=g>-0.1<td class=k>-9<td class=h>-2.4<td class=i>-5.1<td class=e>4.9<td class=h>-2.5<td class=i>-5.1<td class=j>-7.8<td class=g>-2<td class=j>-6.7<td class=e>4.9<td class=i>-5<td class=h>-3.7<td class=h>-2.3<td class=h>-2.5<td class=h>-2.2<td class=k>-9.7
<tr><th>2026-01-03 00Z<th>240<td class=g>-1.2<td class=e>4.4<td class=h>-2.2<td class=j>-6.7<td class=l>-11.1<td class=j>-6.1<td class=i>-4.1<td class=d>5.3<td class=g>-0.9<td class=h>-3.3<td class=g>-0.4<td class=k>-8.5<td class=e>2.8<td class=h>-2.3<td class=e>2.4<td class=h>-4<td class=j>-6.4<td class=l>-10.3<td class=k>-9.7<td class=g>-0.9<td class=g>-0.4<td class=g>-1.6<td class=k>-9.5<td class=h>-3.1<td class=h>-2.8<td class=i>-4.8<td class=h>-2.5<td class=i>-4.7<td class=h>-3.2<td class=k>-9<td class=h>-3.3<td class=i>-4.1<td class=g>-1.7<td class=e>2.4<td class=f>0.3<td class=j>-7.4<td class=h>-3.1<td class=i>-5.6<td class=d>5.1<td class=h>-2.6<td class=j>-6.6<td class=k>-8.3<td class=h>-2.6<td class=j>-7<td class=c>6.3<td class=i>-5<td class=h>-2.9<td class=h>-3.3<td class=h>-3.5<td class=h>-2.6<td class=k>-9.3
<tr><th>2026-01-03 06Z<th>246<td class=g>-1.3<td class=e>3.5<td class=h>-2.7<td class=j>-7.7<td class=l>-11.9<td class=j>-7.6<td class=i>-4.4<td class=d>5.4<td class=h>-2.4<td class=h>-3.6<td class=g>-0.2<td class=k>-9.8<td class=e>3.4<td class=g>-0.9<td class=f>1.5<td class=i>-4.2<td class=j>-7.1<td class=k>-9.9<td class=l>-10.1<td class=g>-1.8<td class=g>-0.6<td class=e>4.3<td class=l>-10.5<td class=h>-2.6<td class=i>-4.7<td class=i>-5.5<td class=h>-2.5<td class=j>-7<td class=j>-6.7<td class=l>-10.1<td class=h>-3.5<td class=i>-4.7<td class=g>-1.7<td class=f>1.4<td class=f>0.4<td class=h>-3.1<td class=k>-9.5<td class=j>-6.1<td class=e>4.5<td class=h>-3.4<td class=k>-8.2<td class=j>-7.1<td class=h>-3.3<td class=i>-5.8<td class=d>5.6<td class=i>-4.4<td class=i>-4.6<td class=h>-3.9<td class=h>-3.7<td class=h>-3.2<td class=k>-8.2
<tr><th>2026-01-03 12Z<th>252<td class=f>0.5<td class=e>2<td class=h>-2.4<td class=j>-6.4<td class=l>-10.8<td class=j>-7.2<td class=i>-4.2<td class=d>5.2<td class=h>-2.7<td class=h>-3.2<td class=f>0.6<td class=k>-8.4<td class=e>3.8<td class=f>0.8<td class=e>2.4<td class=h>-2.2<td class=j>-6.5<td class=k>-8.8<td class=k>-8.9<td class=g>-1.8<td class=g>-1<td class=c>6.1<td class=k>-9.9<td class=g>-0.6<td class=i>-4.9<td class=i>-4.8<td class=g>-0.7<td class=k>-8.1<td class=j>-6.2<td class=k>-9.9<td class=h>-2.9<td class=i>-4.8<td class=g>-0.6<td class=f>1<td class=f>0.4<td class=g>-0.2<td class=k>-9.6<td class=i>-5.1<td class=e>3.4<td class=h>-3.7<td class=j>-7.2<td class=i>-5.5<td class=h>-3.4<td class=i>-4.4<td class=e>3.6<td class=h>-3.3<td class=i>-5.3<td class=g>-1.7<td class=g>-1.3<td class=h>-3.1<td class=i>-4.8
<tr><th>2026-01-03 18Z<th>258<td class=f>1.5<td class=f>0.7<td class=h>-2.9<td class=j>-6.2<td class=l>-10.9<td class=i>-5.7<td class=i>-4.5<td class=e>4.6<td class=h>-2.3<td class=h>-2.8<td class=f>1.5<td class=i>-4.5<td class=e>3.6<td class=f>1<td class=e>2.1<td class=f>0.7<td class=j>-7<td class=j>-7.5<td class=j>-7.9<td class=g>-1.9<td class=g>-0.8<td class=c>6.8<td class=l>-11<td class=f>0.2<td class=i>-5.2<td class=i>-4.1<td class=f>0.2<td class=j>-8<td class=j>-6.6<td class=k>-10<td class=g>-1.9<td class=i>-4.8<td class=f>0.1<td class=f>0.2<td class=f>0.4<td class=f>0.1<td class=k>-9.7<td class=i>-6<td class=e>2.5<td class=i>-4.7<td class=j>-7.7<td class=i>-4.6<td class=h>-3.3<td class=h>-3.2<td class=e>3.4<td class=g>-1.7<td class=i>-4.2<td class=f>0.4<td class=g>-0.7<td class=h>-2.8<td class=h>-2.5
<tr><th>2026-01-04 00Z<th>264<td class=f>0.9<td class=f>0.1<td class=h>-3.6<td class=j>-6.6<td class=l>-11.9<td class=i>-5.7<td class=i>-5.8<td class=e>3.5<td class=h>-2.8<td class=h>-3.3<td class=f>1<td class=h>-2.9<td class=e>2.4<td class=f>0.1<td class=f>1<td class=f>0.9<td class=j>-6.8<td class=i>-5.6<td class=j>-6.7<td class=h>-2.2<td class=g>-0.8<td class=c>6.3<td class=l>-11<td class=g>-0.7<td class=h>-3.7<td class=h>-3.9<td class=g>-0.8<td class=j>-7<td class=j>-7.4<td class=l>-10.3<td class=h>-2.6<td class=i>-4.6<td class=g>-1<td class=g>-0.9<td class=g>-0.6<td class=g>-0.7<td class=k>-10<td class=i>-5.8<td class=f>0.1<td class=i>-5.5<td class=k>-8.2<td class=i>-5.8<td class=i>-4.1<td class=i>-4.2<td class=e>2.8<td class=g>-1<td class=h>-2.7<td class=g>-1<td class=g>-1.2<td class=h>-3<td class=g>-1.9
<tr><th>2026-01-04 06Z<th>270<td class=f>0.4<td class=f>0.3<td class=h>-3.7<td class=j>-6.5<td class=l>-11.5<td class=h>-3.8<td class=i>-5.5<td class=f>1.7<td class=h>-2.7<td class=h>-3.3<td class=f>0.2<td class=h>-3.4<td class=f>1.2<td class=g>-0.7<td class=g>-0.2<td class=f>0.1<td class=j>-6.4<td class=h>-3.9<td class=j>-6.8<td class=g>-1.3<td class=g>-0.5<td class=c>6.5<td class=k>-9.7<td class=g>-1.4<td class=g>-1.9<td class=h>-3.7<td class=g>-1.8<td class=i>-5.2<td class=j>-7.5<td class=k>-9.8<td class=h>-2.7<td class=i>-4.4<td class=g>-1.9<td class=g>-1.5<td class=g>-1.9<td class=f>0<td class=k>-9.6<td class=h>-3.8<td class=g>-0.1<td class=j>-6.5<td class=k>-8.1<td class=j>-7.3<td class=i>-4.1<td class=i>-5.4<td class=e>2.6<td class=g>-0.2<td class=h>-2.8<td class=h>-2.4<td class=f>0.2<td class=h>-3.2<td class=g>-1.7
<tr><th>2026-01-04 12Z<th>276<td class=g>-0.1<td class=f>-0<td class=j>-6.2<td class=i>-5.1<td class=k>-10<td class=g>-2<td class=i>-5.2<td class=f>0.7<td class=h>-2.1<td class=h>-2.3<td class=g>-0.3<td class=h>-3.8<td class=f>0.8<td class=g>-1.8<td class=g>-0.7<td class=f>0.1<td class=i>-5.3<td class=h>-2.6<td class=i>-4.8<td class=g>-0.8<td class=g>-0.2<td class=d>5.9<td class=j>-7.5<td class=g>-1.4<td class=g>-0.7<td class=h>-2.8<td class=g>-1.5<td class=i>-4.5<td class=i>-5.9<td class=k>-8.2<td class=g>-1.6<td class=h>-3.7<td class=h>-2.1<td class=g>-1.5<td class=h>-2.5<td class=e>2.7<td class=k>-8.9<td class=h>-2.6<td class=g>-1.5<td class=j>-6.1<td class=j>-7.3<td class=j>-7<td class=h>-3.3<td class=i>-4.4<td class=f>1.8<td class=f>0.1<td class=h>-3.5<td class=h>-3<td class=f>1.1<td class=h>-3<td class=g>-1.5
<tr><th>2026-01-04 18Z<th>282<td class=g>-0.2<td class=f>-0<td class=j>-6.9<td class=i>-4.4<td class=k>-9.1<td class=h>-2.6<td class=j>-6.5<td class=e>2.5<td class=g>-1.6<td class=g>-1.9<td class=g>-0.3<td class=h>-3.9<td class=f>0.6<td class=g>-1.7<td class=g>-0.9<td class=f>0.6<td class=i>-4.4<td class=h>-2.1<td class=h>-2.4<td class=g>-0.8<td class=g>-1<td class=d>5.6<td class=i>-5.9<td class=g>-0.6<td class=h>-2.2<td class=h>-2.3<td class=g>-0.7<td class=h>-3.1<td class=i>-5.6<td class=j>-6.4<td class=g>-0.8<td class=h>-3.7<td class=g>-0.9<td class=h>-3.1<td class=h>-2.7<td class=e>3.8<td class=k>-8.3<td class=g>-1.9<td class=g>-1.7<td class=j>-6.1<td class=j>-6.8<td class=i>-5.1<td class=h>-2.8<td class=h>-3.9<td class=f>0.2<td class=f>0.2<td class=h>-2.5<td class=h>-2.9<td class=f>0.3<td class=h>-2.9<td class=g>-1.3
<tr><th>2026-01-05 00Z<th>288<td class=g>-0.4<td class=f>0.2<td class=j>-6.3<td class=i>-5<td class=k>-9.7<td class=j>-7.8<td class=j>-7.5<td class=f>1.6<td class=g>-1.9<td class=g>-1.8<td class=g>-1.3<td class=h>-3.7<td class=g>-0.2<td class=g>-1.5<td class=g>-1.4<td class=g>-1.2<td class=i>-4.1<td class=h>-2.9<td class=h>-3.5<td class=g>-1.6<td class=g>-1.5<td class=e>4.1<td class=i>-4.7<td class=g>-0.1<td class=h>-3.3<td class=h>-2.4<td class=g>-0.2<td class=h>-2.5<td class=j>-6.3<td class=i>-5.3<td class=g>-1.1<td class=i>-4.3<td class=h>-2.1<td class=i>-5.4<td class=h>-3.1<td class=e>4.6<td class=j>-7.6<td class=h>-2.4<td class=h>-2.4<td class=j>-7.4<td class=j>-7.5<td class=h>-3.3<td class=g>-2<td class=h>-3.6<td class=g>-1.6<td class=g>-1<td class=i>-4.6<td class=h>-3.5<td class=g>-1.6<td class=h>-2.8<td class=h>-2.2
<tr><th>2026-01-05 06Z<th>294<td class=g>-0.8<td class=f>0.3<td class=i>-5.6<td class=i>-5.3<td class=k>-9.7<td class=k>-9.8<td class=j>-6.7<td class=f>0.2<td class=h>-2.2<td class=g>-1.7<td class=h>-3.7<td class=i>-4.1<td class=g>-0.8<td class=g>-0.4<td class=h>-2.1<td class=g>-1.2<td class=h>-3.5<td class=h>-2.8<td class=h>-3.7<td class=h>-2.4<td class=g>-1.7<td class=e>2.5<td class=h>-3.6<td class=g>-1.5<td class=i>-4.2<td class=h>-2.7<td class=g>-0.6<td class=h>-2.1<td class=j>-7<td class=h>-3.9<td class=g>-1.9<td class=h>-3.9<td class=h>-3.8<td class=j>-6.7<td class=h>-3.6<td class=e>3.5<td class=j>-7.4<td class=h>-3.5<td class=h>-3.4<td class=j>-7.5<td class=j>-7<td class=h>-3.3<td class=g>-1<td class=h>-2.9<td class=h>-2.6<td class=h>-2.3<td class=i>-5.1<td class=h>-3.6<td class=h>-2.5<td class=h>-3<td class=h>-3.2
<tr><th>2026-01-05 12Z<th>300<td class=g>-1.1<td class=f>0.5<td class=i>-5.3<td class=i>-5.4<td class=k>-8.4<td class=k>-9.3<td class=i>-5.9<td class=f>0.2<td class=g>-1.3<td class=g>-1.6<td class=i>-4.1<td class=h>-3.1<td class=g>-0.5<td class=f>0.5<td class=g>-2<td class=g>-2<td class=h>-2.8<td class=h>-3<td class=h>-3.6<td class=h>-2.5<td class=g>-1.3<td class=f>1.5<td class=h>-3.7<td class=h>-2.4<td class=h>-3.1<td class=h>-2.5<td class=g>-0.4<td class=h>-3<td class=j>-6.4<td class=g>-2<td class=h>-2.9<td class=h>-2.9<td class=i>-4.5<td class=j>-7<td class=i>-4.3<td class=f>1.1<td class=j>-6.6<td class=h>-4<td class=i>-4.1<td class=j>-7.3<td class=j>-7<td class=h>-3.4<td class=g>-0.6<td class=h>-2.3<td class=h>-2.6<td class=h>-3.4<td class=i>-4.5<td class=h>-3.1<td class=h>-2.4<td class=h>-2.2<td class=i>-4.2
<tr><th>2026-01-05 18Z<th>306<td class=g>-0.9<td class=f>1.5<td class=h>-3.8<td class=h>-3.7<td class=j>-7.6<td class=k>-8.9<td class=i>-5<td class=f>0.4<td class=g>-0.5<td class=g>-1.4<td class=h>-4<td class=g>-1.8<td class=f>0.1<td class=g>-0.6<td class=h>-2.4<td class=g>-1.2<td class=h>-3<td class=i>-4.3<td class=h>-2.4<td class=h>-2.7<td class=g>-1.3<td class=f>1.3<td class=i>-5.3<td class=h>-3.3<td class=g>-1.6<td class=g>-1.8<td class=f>0.3<td class=h>-3.5<td class=i>-4.4<td class=g>-1.6<td class=h>-3.3<td class=h>-2.5<td class=i>-4.3<td class=j>-7.1<td class=i>-4.7<td class=f>1<td class=i>-5.8<td class=h>-3.4<td class=i>-4.2<td class=j>-6.9<td class=i>-5.4<td class=h>-3.7<td class=g>-0.1<td class=g>-1.3<td class=h>-2.6<td class=h>-3.8<td class=i>-5.5<td class=g>-2<td class=g>-1.7<td class=g>-1.8<td class=i>-4.2
<tr><th>2026-01-06 00Z<th>312<td class=g>-1.8<td class=e>2.1<td class=h>-2.5<td class=h>-2.8<td class=j>-7.6<td class=k>-9.2<td class=i>-4.8<td class=f>1.6<td class=g>-1<td class=g>-1<td class=i>-4.2<td class=g>-1.2<td class=f>0.5<td class=g>-1.3<td class=h>-3.1<td class=g>-1.2<td class=h>-3.8<td class=i>-4.2<td class=g>-1.2<td class=h>-3.3<td class=h>-2.6<td class=f>0.9<td class=j>-6.5<td class=i>-4.3<td class=h>-2.9<td class=g>-1.3<td class=g>-0.8<td class=h>-3.8<td class=i>-4.4<td class=g>-1.2<td class=h>-3.6<td class=h>-3.2<td class=i>-5.8<td class=k>-8.1<td class=i>-4.7<td class=f>1.9<td class=i>-5.3<td class=g>-1.4<td class=h>-3.5<td class=j>-7.4<td class=i>-5.7<td class=i>-5<td class=g>-0.4<td class=g>-0.4<td class=h>-3.2<td class=h>-3.9<td class=j>-6.4<td class=g>-0.7<td class=g>-0.1<td class=g>-1.7<td class=i>-4.5
<tr><th>2026-01-06 06Z<th>318<td class=g>-2<td class=e>2.4<td class=g>-1.5<td class=g>-2<td class=j>-7.8<td class=k>-9.3<td class=h>-3.5<td class=e>4<td class=g>-0.8<td class=g>-0.9<td class=i>-4.8<td class=g>-0.7<td class=f>0.5<td class=h>-2.8<td class=h>-2.1<td class=g>-1.6<td class=h>-3.3<td class=h>-4<td class=g>-0.4<td class=h>-3.5<td class=i>-6<td class=f>1<td class=j>-6.1<td class=i>-4.1<td class=h>-3<td class=g>-1<td class=g>-1.6<td class=i>-5<td class=j>-6.3<td class=g>-0.8<td class=h>-2.7<td class=h>-3.7<td class=j>-7.4<td class=k>-8.3<td class=i>-4.6<td class=e>2.7<td class=i>-4.4<td class=h>-2.1<td class=h>-2.5<td class=j>-7.4<td class=i>-4.7<td class=i>-5.6<td class=g>-1.9<td class=g>-1<td class=h>-3<td class=i>-4.1<td class=j>-7.1<td class=g>-0.1<td class=e>3.5<td class=g>-1.8<td class=i>-4.8
<tr><th>2026-01-06 12Z<th>324<td class=g>-1.4<td class=e>4.2<td class=g>-0.6<td class=h>-2.1<td class=j>-6.3<td class=k>-8.6<td class=g>-1.5<td class=c>6.6<td class=g>-0.4<td class=g>-1.1<td class=i>-5<td class=f>0.1<td class=f>0.2<td class=h>-2.8<td class=g>-1.4<td class=g>-1.4<td class=h>-2.2<td class=h>-2.8<td class=g>-0.4<td class=i>-4.5<td class=i>-5.8<td class=e>2.4<td class=i>-5.3<td class=h>-2.6<td class=h>-3.1<td class=g>-0.5<td class=g>-1.8<td class=i>-4.6<td class=i>-5.9<td class=g>-0.2<td class=g>-0.8<td class=h>-3.8<td class=j>-7.2<td class=j>-7.6<td class=h>-3.5<td class=e>3.1<td class=i>-5.4<td class=h>-3.3<td class=g>-1.6<td class=j>-6.8<td class=i>-4.7<td class=j>-6.3<td class=g>-1.6<td class=g>-0.2<td class=g>-1.2<td class=h>-3.5<td class=i>-5.7<td class=f>0.2<td class=e>4.9<td class=g>-1<td class=i>-4.5
<tr><th>2026-01-06 18Z<th>330<td class=g>-1<td class=d>5.5<td class=f>1.6<td class=g>-1.5<td class=h>-3.3<td class=k>-8.1<td class=f>0.6<td class=c>7.8<td class=f>0.7<td class=g>-2<td class=i>-4.8<td class=f>0.5<td class=f>0.2<td class=h>-2.4<td class=g>-0.8<td class=g>-0.8<td class=g>-1.6<td class=g>-1.3<td class=f>0.2<td class=h>-3.4<td class=i>-4.9<td class=e>3.1<td class=i>-4.5<td class=f>0.9<td class=h>-2.6<td class=f>0.1<td class=g>-0.9<td class=i>-4.6<td class=j>-6.3<td class=f>0.3<td class=f>0.6<td class=h>-3.7<td class=j>-7.6<td class=i>-5.6<td class=h>-2.6<td class=e>3.3<td class=i>-5.2<td class=h>-3.6<td class=g>-0.8<td class=i>-5.6<td class=i>-4.7<td class=j>-7.8<td class=h>-2.1<td class=f>0.7<td class=g>-0.1<td class=i>-4.3<td class=i>-5.1<td class=f>1.8<td class=d>5<td class=g>-0.5<td class=h>-4
<tr><th>2026-01-07 00Z<th>336<td class=g>-0.7<td class=d>5.4<td class=e>3.4<td class=h>-2.8<td class=h>-2.8<td class=k>-8.5<td class=f>0.9<td class=c>7.9<td class=f>1.6<td class=h>-2.6<td class=i>-4.7<td class=f>-0<td class=f>0.6<td class=h>-3.1<td class=f>0.3<td class=g>-1.9<td class=g>-1.8<td class=g>-1.1<td class=f>0.1<td class=h>-2.5<td class=i>-5.7<td class=e>2.6<td class=i>-4.8<td class=e>2.1<td class=h>-2.5<td class=g>-0.2<td class=f>0.7<td class=i>-5.7<td class=i>-5.6<td class=f>0.1<td class=f>0.5<td class=i>-5.3<td class=k>-8.5<td class=i>-4.8<td class=h>-2.1<td class=e>2.3<td class=j>-6.7<td class=g>-0.7<td class=g>-0.2<td class=i>-5<td class=j>-7<td class=k>-8.4<td class=h>-2.6<td class=f>0.8<td class=g>-1<td class=h>-3.4<td class=i>-5.1<td class=g>-0.7<td class=d>5.4<td class=g>-0.6<td class=h>-4
<tr><th>2026-01-07 06Z<th>342<td class=g>-0.4<td class=d>5.5<td class=e>4.9<td class=g>-1.3<td class=h>-2.2<td class=k>-8.7<td class=f>0.5<td class=b>8.3<td class=f>1.8<td class=h>-3<td class=i>-4.7<td class=g>-0.1<td class=e>2<td class=h>-3.3<td class=f>1.8<td class=g>-1.4<td class=g>-1.8<td class=g>-0.3<td class=f>0.1<td class=h>-2.1<td class=j>-6.5<td class=e>2.2<td class=i>-5<td class=e>2.7<td class=g>-0.9<td class=g>-0.5<td class=e>2.3<td class=j>-7<td class=j>-6.9<td class=f>-0<td class=g>-0.4<td class=i>-4.3<td class=k>-9.2<td class=h>-3.5<td class=g>-1.3<td class=f>0.6<td class=j>-6.8<td class=g>-1<td class=f>0.5<td class=i>-4.5<td class=j>-7.2<td class=k>-8.3<td class=h>-2.9<td class=f>0.6<td class=g>-0.5<td class=i>-4.4<td class=h>-3.9<td class=h>-2.3<td class=e>4.6<td class=h>-3.1<td class=h>-3.6
<tr><th>2026-01-07 12Z<th>348<td class=g>-0.5<td class=e>4.7<td class=d>5.8<td class=h>-2.6<td class=h>-2.3<td class=j>-7.9<td class=g>-1.7<td class=b>8.5<td class=e>3<td class=g>-1.9<td class=i>-4.8<td class=f>0.3<td class=e>2.9<td class=g>-1.8<td class=e>3.4<td class=g>-0.5<td class=g>-1.2<td class=f>0.7<td class=f>0.9<td class=h>-2.3<td class=j>-6.1<td class=f>1.6<td class=i>-5.2<td class=e>2.9<td class=g>-1.4<td class=f>0.3<td class=e>2.8<td class=j>-6.4<td class=j>-7.1<td class=g>-1<td class=g>-2<td class=h>-3.4<td class=k>-8.1<td class=h>-2.3<td class=g>-0.1<td class=f>0.5<td class=i>-4.5<td class=g>-1.7<td class=f>0.3<td class=h>-2.9<td class=j>-6.7<td class=i>-5.4<td class=h>-3.7<td class=f>1.2<td class=g>-0.2<td class=j>-6.7<td class=h>-3.6<td class=h>-2.6<td class=e>4.6<td class=i>-5.4<td class=h>-2.7
<tr><th>2026-01-07 18Z<th>354<td class=g>-0.2<td class=e>4.6<td class=d>5.3<td class=h>-2.9<td class=g>-1.8<td class=j>-7.6<td class=j>-6.2<td class=b>8.1<td class=e>2.2<td class=g>-1<td class=i>-4.1<td class=f>1.2<td class=e>2.7<td class=h>-3.3<td class=d>5.1<td class=g>-1.3<td class=f>0<td class=f>1.1<td class=f>1.9<td class=g>-1.3<td class=i>-5.2<td class=f>1.6<td class=i>-5<td class=e>2.8<td class=g>-1.5<td class=f>0.4<td class=e>3.9<td class=j>-6.8<td class=j>-7<td class=g>-1.9<td class=h>-2.2<td class=h>-3.1<td class=j>-7.5<td class=g>-1.1<td class=f>0.4<td class=f>0.3<td class=h>-2.6<td class=h>-2.4<td class=g>-0.5<td class=g>-1.8<td class=i>-5.5<td class=h>-3.9<td class=i>-4.5<td class=e>3.1<td class=f>0.9<td class=i>-6<td class=h>-2.6<td class=h>-3.4<td class=d>5.2<td class=j>-7.5<td class=g>-1.8
<tr><th>2026-01-08 00Z<th>360<td class=f>0.5<td class=e>4<td class=d>5<td class=g>-2<td class=g>-1.5<td class=k>-8.4<td class=i>-5.3<td class=c>7.5<td class=f>1.2<td class=g>-0.1<td class=h>-3.3<td class=f>1.6<td class=f>1.8<td class=h>-2.6<td class=c>6.5<td class=h>-3.3<td class=g>-0.2<td class=g>-1<td class=e>3<td class=g>-0.3<td class=i>-5.2<td class=f>1.2<td class=i>-5.6<td class=e>3.3<td class=g>-1.7<td class=g>-0.4<td class=e>3.3<td class=j>-7.8<td class=j>-7.3<td class=h>-3.7<td class=h>-3<td class=g>-1.3<td class=j>-7.1<td class=g>-1.4<td class=g>-1.5<td class=f>0.3<td class=h>-3.2<td class=h>-2.2<td class=g>-2<td class=h>-3.9<td class=i>-4.1<td class=h>-3<td class=i>-4.9<td class=e>2.3<td class=f>1.8<td class=j>-6.2<td class=h>-3.3<td class=h>-3.5<td class=d>5.1<td class=j>-6.3<td class=g>-0.8
</table>
<div class="cp">Copyright © 2025 Meteociel - Source European Centre for Medium-Range Weather Forecasts (ECMWF)</div>
</body></html>
